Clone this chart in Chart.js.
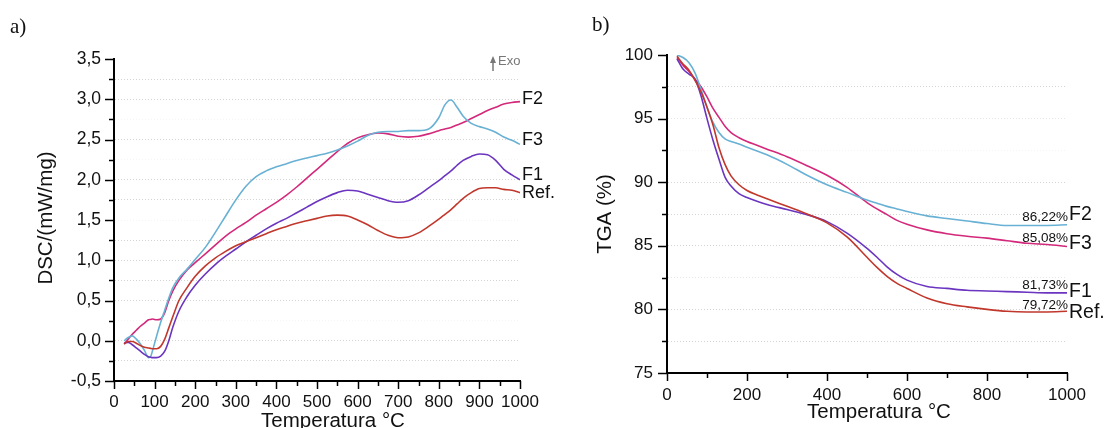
<!DOCTYPE html>
<html><head><meta charset="utf-8">
<script src="https://cdn.jsdelivr.net/npm/chart.js@4.4.1/dist/chart.umd.min.js"></script>
<style>
html,body{margin:0;padding:0;background:#fff;}
#wrap{position:relative;width:1110px;height:428px;overflow:hidden;background:#fff;}
canvas{position:absolute;top:0;}
#cA{left:0;} #cB{left:560px;}
</style></head><body>
<div id="wrap"><canvas id="cA" width="560" height="428"></canvas><canvas id="cB" width="550" height="428"></canvas></div>
<script>
// ---------- DATA: DSC (panel a) ----------
const dscTemp = [25,35,45,55,65,75,85,90,95,105,115,125,135,145,160,180,200,225,250,275,300,325,350,375,400,425,450,475,500,525,550,575,600,625,650,675,700,725,750,775,800,815,830,845,860,880,900,920,940,960,980,1000];
const dscRef = [-0.04,-0.01,-0.01,-0.03,-0.06,-0.08,-0.09,-0.095,-0.10,-0.10,-0.07,0.02,0.16,0.30,0.50,0.66,0.80,0.93,1.03,1.11,1.18,1.23,1.28,1.33,1.38,1.42,1.46,1.49,1.52,1.55,1.56,1.55,1.50,1.44,1.37,1.31,1.28,1.29,1.34,1.42,1.51,1.57,1.63,1.70,1.77,1.84,1.89,1.90,1.90,1.88,1.87,1.84];
const dscF1 = [-0.03,-0.02,-0.05,-0.09,-0.13,-0.17,-0.20,-0.205,-0.21,-0.21,-0.19,-0.13,0.0,0.17,0.37,0.55,0.69,0.83,0.95,1.05,1.14,1.23,1.31,1.39,1.46,1.52,1.59,1.66,1.73,1.79,1.84,1.87,1.86,1.82,1.78,1.74,1.72,1.74,1.81,1.90,1.99,2.05,2.11,2.18,2.24,2.29,2.32,2.31,2.24,2.13,2.06,2.00];
const dscF2 = [-0.04,0.02,0.08,0.13,0.18,0.22,0.26,0.265,0.27,0.26,0.27,0.35,0.50,0.62,0.75,0.88,0.97,1.08,1.19,1.30,1.39,1.47,1.56,1.64,1.72,1.81,1.91,2.02,2.13,2.24,2.35,2.45,2.52,2.56,2.58,2.57,2.54,2.53,2.54,2.57,2.61,2.63,2.65,2.68,2.71,2.76,2.81,2.86,2.90,2.94,2.96,2.97];
const dscF3 = [0.0,0.04,0.06,0.02,-0.04,-0.12,-0.21,-0.20,-0.12,0.06,0.23,0.38,0.53,0.66,0.78,0.89,1.01,1.16,1.35,1.55,1.75,1.92,2.04,2.11,2.16,2.20,2.24,2.27,2.30,2.33,2.37,2.42,2.48,2.55,2.59,2.60,2.60,2.61,2.61,2.63,2.77,2.93,2.99,2.90,2.79,2.70,2.66,2.63,2.59,2.53,2.49,2.44];
const dscXTickLabels = [0,100,200,300,400,500,600,700,800,900,1000];
const dscYTickLabels = [-0.5,0,0.5,1,1.5,2,2.5,3,3.5];

// ---------- DATA: TGA (panel b) ----------
const tgaTemp = [25,40,55,70,85,100,115,130,145,160,180,200,225,250,300,350,400,450,500,525,550,575,600,650,700,750,800,850,900,950,1000];
const tgaF2 = [100.0,99.8,99.4,98.6,97.3,95.9,94.7,93.9,93.4,93.2,93.0,92.75,92.45,92.15,91.4,90.55,89.8,89.2,88.6,88.35,88.1,87.9,87.7,87.35,87.15,86.95,86.75,86.6,86.6,86.6,86.65];
const tgaF3 = [99.8,99.2,98.7,98.1,97.5,96.7,95.8,95.1,94.4,93.9,93.5,93.2,92.9,92.6,92.0,91.3,90.55,89.6,88.4,87.9,87.45,87.0,86.7,86.25,85.95,85.75,85.6,85.4,85.2,85.1,84.95];
const tgaF1 = [99.7,98.9,98.5,98.1,96.8,95.0,93.3,91.8,90.4,89.7,89.1,88.8,88.5,88.25,87.85,87.45,86.9,86.0,84.8,84.1,83.35,82.75,82.3,81.8,81.65,81.5,81.45,81.4,81.35,81.3,81.3];
const tgaRef = [99.9,99.3,98.8,98.0,97.1,95.9,94.5,92.7,91.4,90.5,89.8,89.35,89.0,88.7,88.1,87.5,86.8,85.7,84.1,83.3,82.6,82.05,81.65,80.9,80.45,80.2,80.0,79.85,79.8,79.8,79.85];
const tgaXTickLabels = [0,200,400,600,800,1000];
const tgaYTickLabels = [75,80,85,90,95,100];
const tgaFinal = ['86,22%','85,08%','81,73%','79,72%'];

// ---------- STYLE ----------
const FONT = '"Liberation Sans", Arial, sans-serif';
const SERIF = '"Liberation Serif", "Times New Roman", serif';
const C = {ref:'#c1372c', f1:'#6b35c0', f2:'#d3297b', f3:'#68b1d4'};

function pts(t, v){ return t.map((x,i)=>({x:x, y:v[i]})); }
function ds(label, t, v, color){
  return {label, data: pts(t,v), borderColor: color, backgroundColor: color, borderWidth: 1.6,
          pointRadius: 0, fill: false, cubicInterpolationMode: 'monotone'};
}
function has(arr, v){ return arr.some(a => Math.abs(a - v) < 1e-9); }

function xAxis(min, max, step, labels, pad, h){
  return {type:'linear', position:'bottom', min, max,
    ticks:{stepSize:step, autoSkip:false, maxRotation:0, padding:pad, color:'#111',
      font:{family:FONT, size:17}, callback:(v)=> has(labels, v) ? String(v) : ''},
    grid:{display:false, drawTicks:false},
    border:{display:true, color:'#000', width:2},
    afterFit:(s)=>{ s.height = h; }};
}
function yAxis(min, max, step, labels, fmt, pad, w, size, gridFn){
  return {type:'linear', position:'left', min, max,
    ticks:{stepSize:step, autoSkip:false, padding:pad, color:'#111',
      font:{family:FONT, size:size}, callback:(v)=> has(labels, v) ? fmt(v) : ''},
    grid:{display:true, drawTicks:false, lineWidth:1, color:(ctx)=> gridFn(ctx.tick ? ctx.tick.value : null)},
    border:{display:true, color:'#000', width:2, dash:[1,2]},
    afterFit:(s)=>{ s.width = w; }};
}

// tick marks drawn from the scales' own ticks
const tickMarks = {
  id:'tickMarks',
  afterDraw(chart){
    const ctx = chart.ctx, xs = chart.scales.x, ys = chart.scales.y;
    ctx.save(); ctx.strokeStyle = '#000'; ctx.lineWidth = 1.5;
    xs.ticks.forEach(t => {
      const px = Math.round(xs.getPixelForValue(t.value)) + 0.5;
      const len = t.label !== '' ? 8 : 5;
      ctx.beginPath(); ctx.moveTo(px, xs.top); ctx.lineTo(px, xs.top + len); ctx.stroke();
    });
    ys.ticks.forEach(t => {
      const py = Math.round(ys.getPixelForValue(t.value)) + 0.5;
      const len = t.label !== '' ? 9 : 5;
      ctx.beginPath(); ctx.moveTo(ys.right, py); ctx.lineTo(ys.right - len, py); ctx.stroke();
    });
    ctx.restore();
  }
};

// titles and annotations
const annot = {
  id:'annot',
  afterDraw(chart, args, o){
    const ctx = chart.ctx, a = chart.chartArea, ys = chart.scales.y;
    ctx.save();
    ctx.fillStyle = '#111';
    ctx.font = '21px ' + SERIF; ctx.textAlign = 'left'; ctx.textBaseline = 'middle';
    ctx.fillText(o.letter, o.letterX, o.letterY);
    ctx.font = '20.5px ' + FONT; ctx.textAlign = 'center'; ctx.textBaseline = 'middle';
    ctx.fillText('Temperatura °C', (a.left + a.right)/2 + o.xtDx, o.xtY);
    ctx.save(); ctx.translate(o.ytX, (a.top + a.bottom)/2 + o.ytDy); ctx.rotate(-Math.PI/2);
    ctx.fillText(o.yTitle, 0, 0); ctx.restore();
    ctx.textBaseline = 'middle';
    (o.labels || []).forEach(l => {
      if (l.pct) {
        ctx.font = '13.5px ' + FONT; ctx.textAlign = 'right';
        ctx.fillText(l.pct, a.right + 1, ys.getPixelForValue(l.pv));
      }
      ctx.font = o.labelSize + 'px ' + FONT; ctx.textAlign = 'left';
      ctx.fillText(l.text, a.right + 2, ys.getPixelForValue(l.v));
    });
    if (o.exo) {
      const ax = a.right - 27;
      ctx.strokeStyle = '#777'; ctx.fillStyle = '#777'; ctx.lineWidth = 1.5;
      ctx.beginPath(); ctx.moveTo(ax, a.top + 12); ctx.lineTo(ax, a.top + 2); ctx.stroke();
      ctx.beginPath(); ctx.moveTo(ax, a.top - 3); ctx.lineTo(ax - 3, a.top + 4); ctx.lineTo(ax + 3, a.top + 4); ctx.closePath(); ctx.fill();
      ctx.font = '13px ' + FONT; ctx.textAlign = 'left';
      ctx.fillText('Exo', a.right - 22, a.top + 2);
    }
    ctx.restore();
  }
};

const common = {
  responsive:false, animation:false, devicePixelRatio:1,
  plugins:{legend:{display:false}, tooltip:{enabled:false}}
};

// ---------- Chart a) DSC ----------
const dscHidden = [2.75, 2.25, 1.5, 0.25];
new Chart(document.getElementById('cA'), {
  type:'line',
  data:{datasets:[
    ds('Ref.', dscTemp, dscRef, C.ref),
    ds('F1', dscTemp, dscF1, C.f1),
    ds('F3', dscTemp, dscF3, C.f3),
    ds('F2', dscTemp, dscF2, C.f2)
  ]},
  options:Object.assign({}, common, {
    layout:{padding:{left:0, top:59, right:40, bottom:0}},
    scales:{
      x: xAxis(0, 1000, 50, dscXTickLabels, 11, 47),
      y: yAxis(-0.5, 3.5, 0.25, dscYTickLabels, v => v.toFixed(1).replace('.', ','), 13, 114, 17.5,
        v => (v === null || v <= -0.5 || v >= 3.5) ? 'rgba(0,0,0,0)' : (has(dscHidden, v) ? 'rgba(0,0,0,0.04)' : '#d4d4d4'))
    },
    plugins:Object.assign({}, common.plugins, {
      annot:{letter:'a)', letterX:10, letterY:27, xtDx:16, xtY:421, ytX:46, ytDy:-2,
        yTitle:'DSC/(mW/mg)', labelSize:18, exo:true,
        labels:[{text:'F2', v:3.0},{text:'F3', v:2.49},{text:'F1', v:2.06},{text:'Ref.', v:1.83}]}
    })
  }),
  plugins:[tickMarks, annot]
});

// ---------- Chart b) TGA ----------
new Chart(document.getElementById('cB'), {
  type:'line',
  data:{datasets:[
    ds('Ref.', tgaTemp, tgaRef, C.ref),
    ds('F1', tgaTemp, tgaF1, C.f1),
    ds('F2', tgaTemp, tgaF2, C.f3),
    ds('F3', tgaTemp, tgaF3, C.f2)
  ]},
  options:Object.assign({}, common, {
    layout:{padding:{left:0, top:55, right:43, bottom:0}},
    scales:{
      x: xAxis(0, 1000, 100, tgaXTickLabels, 12, 55),
      y: yAxis(75, 100, 2.5, tgaYTickLabels, v => String(v), 14, 107, 17,
        v => (v === null || v <= 75 || v >= 100) ? 'rgba(0,0,0,0)' : ((v === 92.5) ? 'rgba(0,0,0,0.04)' : (v === 95 || v === 82.5 ? '#e6e6e6' : '#d4d4d4')))
    },
    plugins:Object.assign({}, common.plugins, {
      annot:{letter:'b)', letterX:32, letterY:25, xtDx:12, xtY:412, ytX:45, ytDy:0,
        yTitle:'TGA (%)', labelSize:19.5, exo:false,
        labels:[
          {text:'F2', v:87.42, pct:tgaFinal[0], pv:87.26},
          {text:'F3', v:85.14, pct:tgaFinal[1], pv:85.61},
          {text:'F1', v:81.37, pct:tgaFinal[2], pv:81.92},
          {text:'Ref.', v:79.72, pct:tgaFinal[3], pv:80.35}
        ]}
    })
  }),
  plugins:[tickMarks, annot]
});
</script>
</body></html>
